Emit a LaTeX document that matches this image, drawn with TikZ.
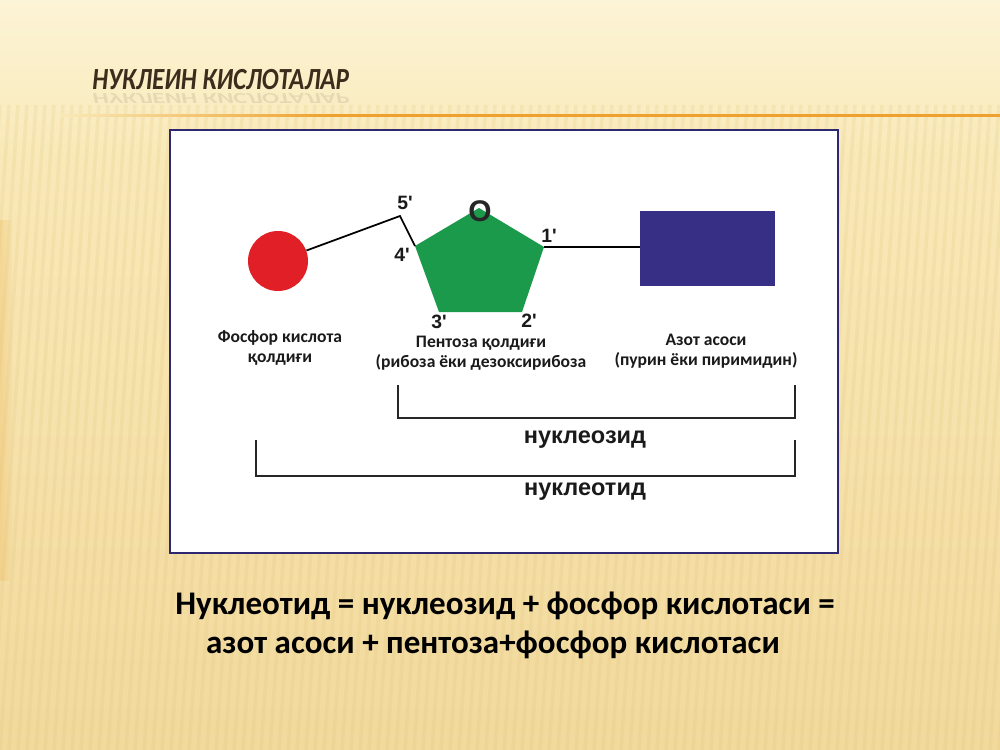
\documentclass[tikz,border=0pt]{standalone}
\usepackage{fontspec}
\setmainfont{Carlito}
\newfontfamily\arialf{Liberation Sans}
\usetikzlibrary{shapes.geometric}
\definecolor{bgtop}{HTML}{FCF4D6}
\definecolor{bgmid}{HTML}{F9E9B8}
\definecolor{bgbot}{HTML}{F2D99C}
\definecolor{stripe}{HTML}{DDBE74}
\definecolor{edgeor}{HTML}{EDB04A}
\definecolor{rulecol}{HTML}{EEA12E}
\definecolor{titlecol}{HTML}{3B2C1C}
\definecolor{boxline}{HTML}{2E2870}
\definecolor{phred}{HTML}{E01F26}
\definecolor{pentgreen}{HTML}{1C9A4B}
\definecolor{basecol}{HTML}{372E86}
\definecolor{txt}{HTML}{1A1A1A}
\begin{document}
\begin{tikzpicture}[x=0.02cm,y=-0.02cm,
  lbl/.style={font=\fontsize{10}{11.6}\selectfont\bfseries, text=txt, align=center, inner sep=0pt},
  prime/.style={font=\arialf\fontsize{11}{12}\selectfont\bfseries, text=txt, inner sep=0pt},
  brlbl/.style={font=\arialf\fontsize{13.4}{16}\selectfont\bfseries, text=txt, inner sep=0pt},
  bracketline/.style={line width=1.3pt, draw=black!85},
  bond/.style={line width=1pt, draw=black},
  eqtext/.style={anchor=base, inner sep=0pt, text=black, font=\fontsize{18.8}{22}\selectfont\bfseries},
  titletext/.style={anchor=base west, inner sep=0pt, text=titlecol, font=\fontsize{17.5}{20}\selectfont\bfseries\itshape}]
\useasboundingbox (0,0) rectangle (1000,750);
% background
\shade[top color=bgtop, bottom color=bgmid] (0,0) rectangle (1000,160);
\shade[top color=bgmid, bottom color=bgbot] (0,160) rectangle (1000,750);
\foreach \i in {0,...,120}{
  \draw[stripe, line width=2pt, opacity=0.16] ({\i*9},105) -- ({\i*9-45},750);
}
\shade[left color=edgeor, right color=bgbot, opacity=0.28] (0,220) rectangle (12,580);
% title and rule
\node[titletext, xscale=0.82] (title) at (92,90) {НУКЛЕИН КИСЛОТАЛАР};
\node[titletext, xscale=0.82, opacity=0.1, yscale=-0.5] (titlerefl) at (92,93) {НУКЛЕИН КИСЛОТАЛАР};
\shade[left color=bgmid, right color=rulecol] (60,114) rectangle (330,116.5);
\fill[rulecol] (330,114) rectangle (1000,116.5);
% white box
\draw[fill=white, draw=boxline, line width=1.5pt] (170,130) rectangle (838,553);
% molecule
\node[circle, fill=phred, minimum size=1.2cm, inner sep=0pt] (phos) at (278,261) {};
\coordinate (c5) at (400,216);
\coordinate (vtop) at (479,208);
\coordinate (v1) at (544,247);
\coordinate (v2) at (522,312);
\coordinate (v3) at (439,312);
\coordinate (v4) at (415,246);
\fill[pentgreen] (vtop) -- (v1) -- (v2) -- (v3) -- (v4) -- cycle;
\node[rectangle, fill=basecol, minimum width=2.7cm, minimum height=1.5cm, inner sep=0pt] (base) at (707.5,248.5) {};
\draw[bond] (phos) -- (c5) -- (v4);
\draw[bond] (v1) -- (base.west |- v1);
% labels
\node[font=\arialf\fontsize{17}{18}\selectfont\bfseries, text=black!85, inner sep=0pt] (oxy) at (480,211) {O};
\node[prime] (p5) at (405,203) {5'};
\node[prime] (p4) at (402,255) {4'};
\node[prime] (p1) at (549,236) {1'};
\node[prime] (p3) at (439,322) {3'};
\node[prime] (p2) at (529,321) {2'};
\node[lbl] (lphos) at (280,348) {Фосфор кислота\\қолдиғи};
\node[lbl] (lpent) at (481,353) {Пентоза қолдиғи\\(рибоза ёки дезоксирибоза};
\node[lbl] (lbase) at (706,351) {Азот асоси\\(пурин ёки пиримидин)};
% brackets
\coordinate (b1a) at (398,385);
\coordinate (b1b) at (795,385);
\draw[bracketline] (b1a) -- (398,418) -- (795,418) -- (b1b);
\node[brlbl] (nuczid) at (585,440) {нуклеозид};
\coordinate (b2a) at (256,440);
\coordinate (b2b) at (795,440);
\draw[bracketline] (b2a) -- (256,476) -- (795,476) -- (b2b);
\node[brlbl] (nuctid) at (585,492) {нуклеотид};
% equation
\node[eqtext] (eq1) at (505,614) {Нуклеотид = нуклеозид + фосфор кислотаси =};
\node[eqtext] (eq2) at (493,653) {азот асоси + пентоза+фосфор кислотаси};
\end{tikzpicture}
\end{document}
